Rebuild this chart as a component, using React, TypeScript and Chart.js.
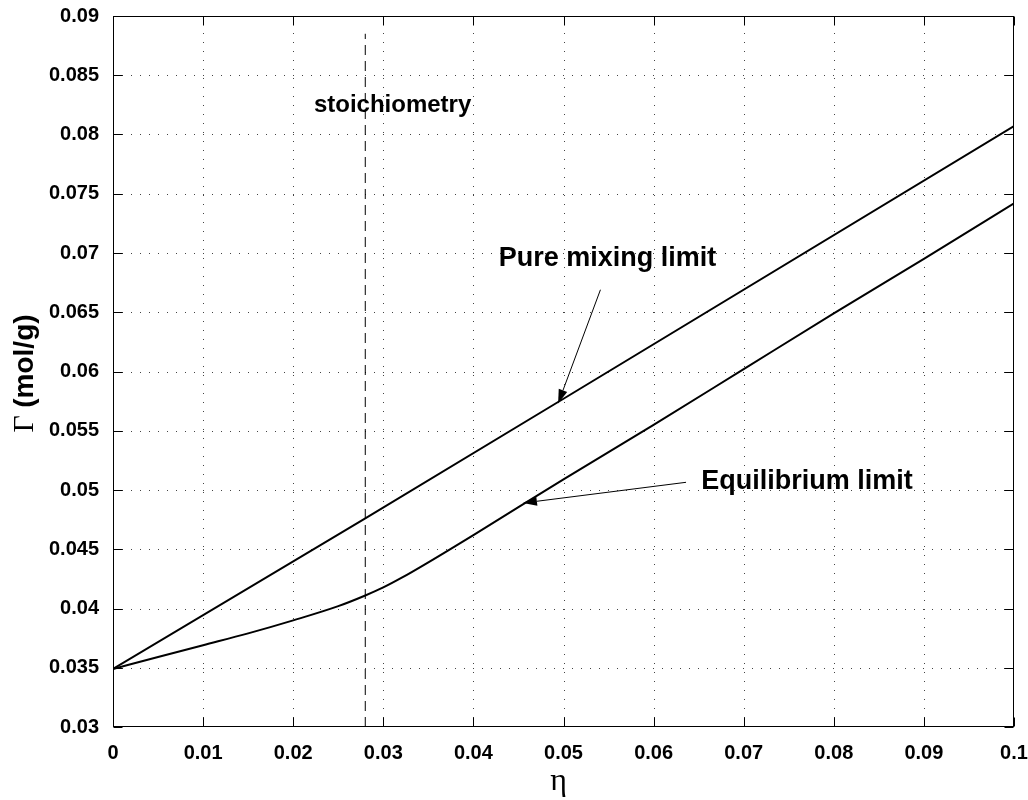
import { useEffect, useRef } from 'react';
import { Chart, registerables } from 'chart.js';

Chart.register(...registerables);

const xTicks = [0, 0.01, 0.02, 0.03, 0.04, 0.05, 0.06, 0.07, 0.08, 0.09, 0.1];
const xTickLabels = ['0', '0.01', '0.02', '0.03', '0.04', '0.05', '0.06', '0.07', '0.08', '0.09', '0.1'];
const yTicks = [0.03, 0.035, 0.04, 0.045, 0.05, 0.055, 0.06, 0.065, 0.07, 0.075, 0.08, 0.085, 0.09];
const yTickLabels = ['0.03', '0.035', '0.04', '0.045', '0.05', '0.055', '0.06', '0.065', '0.07', '0.075', '0.08', '0.085', '0.09'];

const mixingEta = [0, 0.028, 0.05, 0.1];
const mixingGamma = [0.0349, 0.0476, 0.0577, 0.0807];

const equilibriumEta = [0, 0.005, 0.01, 0.015, 0.02, 0.025, 0.028, 0.03, 0.032, 0.035, 0.04, 0.05, 0.06, 0.07, 0.08, 0.09, 0.1];
const equilibriumGamma = [0.0349, 0.0359, 0.0369, 0.0379, 0.039, 0.0402, 0.0411, 0.04178, 0.04258, 0.0439, 0.0462, 0.0509, 0.0555, 0.0602, 0.0649, 0.0695, 0.0742];

const stoichEta = [0.028, 0.028];
const stoichGamma = [0.03, 0.0885];

const annotationTexts = ['Pure mixing limit', 'Equilibrium limit', 'stoichiometry'];
const annotationEta = [0.0428, 0.0653, 0.0223];
const annotationGamma = [0.0689, 0.0501, 0.0819];
const annotationSizes = [27, 27, 24];

const arrowFromEta = [0.0541, 0.0636];
const arrowFromGamma = [0.0669, 0.05065];
const arrowToEta = [0.0494, 0.0455];
const arrowToGamma = [0.0573, 0.0489];

const xAxisLabel = 'η';
const yAxisSymbol = 'Γ';
const yAxisUnit = '(mol/g)';

const SANS = '"Liberation Sans", Arial, Helvetica, sans-serif';
const SERIF = '"Liberation Serif", "Times New Roman", serif';

const toPoints = (xs: number[], ys: number[]) => xs.map((x, i) => ({ x, y: ys[i] }));

const decor = {
  id: 'decor',
  beforeDatasetsDraw(chart: any) {
    const { ctx, chartArea: a, scales } = chart;
    const x = scales.x;
    const y = scales.y;
    ctx.save();
    ctx.strokeStyle = '#444';
    ctx.lineWidth = 1;
    ctx.setLineDash([1, 8]);
    xTicks.forEach((v, i) => {
      if (i === 0 || i === xTicks.length - 1) return;
      const px = Math.round(x.getPixelForValue(v)) + 0.5;
      ctx.beginPath();
      ctx.moveTo(px, a.bottom);
      ctx.lineTo(px, a.top);
      ctx.stroke();
    });
    yTicks.forEach((v, i) => {
      if (i === 0 || i === yTicks.length - 1) return;
      const py = Math.round(y.getPixelForValue(v)) + 0.5;
      ctx.beginPath();
      ctx.moveTo(a.left, py);
      ctx.lineTo(a.right, py);
      ctx.stroke();
    });
    ctx.restore();
  },
  afterDatasetsDraw(chart: any) {
    const { ctx, chartArea: a, scales } = chart;
    const x = scales.x;
    const y = scales.y;
    ctx.save();
    ctx.setLineDash([]);
    ctx.strokeStyle = '#000';
    ctx.lineWidth = 1;
    const L = Math.round(a.left) + 0.5;
    const R = Math.round(a.right) - 0.5;
    const T = Math.round(a.top) + 0.5;
    const B = Math.round(a.bottom) - 0.5;
    ctx.strokeRect(L, T, R - L, B - T);
    const tl = 9;
    xTicks.forEach((v) => {
      const px = Math.round(x.getPixelForValue(v)) + 0.5;
      ctx.beginPath();
      ctx.moveTo(px, B);
      ctx.lineTo(px, B - tl);
      ctx.moveTo(px, T);
      ctx.lineTo(px, T + tl);
      ctx.stroke();
    });
    yTicks.forEach((v) => {
      const py = Math.round(y.getPixelForValue(v)) + 0.5;
      ctx.beginPath();
      ctx.moveTo(L, py);
      ctx.lineTo(L + tl, py);
      ctx.moveTo(R, py);
      ctx.lineTo(R - tl, py);
      ctx.stroke();
    });

    // annotations text
    ctx.fillStyle = '#000';
    ctx.textBaseline = 'alphabetic';
    ctx.textAlign = 'left';
    annotationTexts.forEach((t, i) => {
      ctx.font = `bold ${annotationSizes[i]}px ${SANS}`;
      ctx.fillText(t, x.getPixelForValue(annotationEta[i]), y.getPixelForValue(annotationGamma[i]));
    });

    // arrows
    arrowFromEta.forEach((_, i) => {
      const x0 = x.getPixelForValue(arrowFromEta[i]);
      const y0 = y.getPixelForValue(arrowFromGamma[i]);
      const x1 = x.getPixelForValue(arrowToEta[i]);
      const y1 = y.getPixelForValue(arrowToGamma[i]);
      const dx = x1 - x0;
      const dy = y1 - y0;
      const len = Math.hypot(dx, dy);
      const ux = dx / len;
      const uy = dy / len;
      const hl = 14;
      const hw = 4.5;
      const bx = x1 - ux * hl;
      const by = y1 - uy * hl;
      ctx.lineWidth = 1;
      ctx.beginPath();
      ctx.moveTo(x0, y0);
      ctx.lineTo(bx, by);
      ctx.stroke();
      ctx.beginPath();
      ctx.moveTo(x1, y1);
      ctx.lineTo(bx - uy * hw, by + ux * hw);
      ctx.lineTo(bx + uy * hw, by - ux * hw);
      ctx.closePath();
      ctx.fill();
    });

    // x axis label
    ctx.textAlign = 'center';
    ctx.font = `32px ${SERIF}`;
    ctx.fillText(xAxisLabel, (a.left + a.right) / 2 - 5, a.bottom + 63);

    // y axis label (rotated)
    ctx.translate(33, (a.top + a.bottom) / 2 + 2);
    ctx.rotate(-Math.PI / 2);
    ctx.font = `30px ${SERIF}`;
    const w1 = ctx.measureText(yAxisSymbol + ' ').width;
    ctx.font = `bold 28px ${SANS}`;
    const w2 = ctx.measureText(yAxisUnit).width;
    const start = -(w1 + w2) / 2;
    ctx.textAlign = 'left';
    ctx.font = `30px ${SERIF}`;
    ctx.fillText(yAxisSymbol, start, 0);
    ctx.font = `bold 28px ${SANS}`;
    ctx.fillText(yAxisUnit, start + w1, 0);
    ctx.restore();
  },
};

export default function App() {
  const ref = useRef<HTMLCanvasElement>(null);
  useEffect(() => {
    if (!ref.current) return;
    Chart.defaults.font.family = SANS;
    const chart = new Chart(ref.current, {
      type: 'line',
      data: {
        datasets: [
          {
            label: 'Pure mixing limit',
            data: toPoints(mixingEta, mixingGamma),
            borderColor: '#000',
            borderWidth: 2,
            pointRadius: 0,
            tension: 0,
            fill: false,
          },
          {
            label: 'Equilibrium limit',
            data: toPoints(equilibriumEta, equilibriumGamma),
            borderColor: '#000',
            borderWidth: 2,
            pointRadius: 0,
            cubicInterpolationMode: 'monotone',
            fill: false,
          },
          {
            label: 'stoichiometry',
            data: toPoints(stoichEta, stoichGamma),
            borderColor: '#000',
            borderWidth: 1,
            borderDash: [10, 6],
            pointRadius: 0,
            tension: 0,
            fill: false,
          },
        ],
      },
      options: {
        animation: false,
        responsive: false,
        devicePixelRatio: 1,
        layout: { padding: { top: 16, right: 14, left: 0, bottom: 0 } },
        plugins: {
          legend: { display: false },
          tooltip: { enabled: false },
          title: { display: false },
        },
        scales: {
          x: {
            type: 'linear',
            min: 0,
            max: 0.1,
            grid: { display: false },
            border: { display: false },
            afterBuildTicks: (s: any) => {
              s.ticks = xTicks.map((v) => ({ value: v }));
            },
            afterFit: (s: any) => {
              s.height = 73;
              s.paddingLeft = 0;
              s.paddingRight = 0;
            },
            ticks: {
              autoSkip: false,
              maxRotation: 0,
              minRotation: 0,
              padding: 6,
              color: '#000',
              font: { family: SANS, size: 20, weight: 'bold' },
              callback: (_v: any, i: number) => xTickLabels[i],
            },
          },
          y: {
            type: 'linear',
            min: 0.03,
            max: 0.09,
            grid: { display: false },
            border: { display: false },
            afterBuildTicks: (s: any) => {
              s.ticks = yTicks.map((v) => ({ value: v }));
            },
            afterFit: (s: any) => {
              s.width = 113;
              s.paddingTop = 0;
              s.paddingBottom = 0;
            },
            ticks: {
              autoSkip: false,
              padding: 6,
              color: '#000',
              font: { family: SANS, size: 20, weight: 'bold' },
              callback: (_v: any, i: number) => yTickLabels[i],
            },
          },
        },
      },
      plugins: [decor],
    } as any);
    return () => chart.destroy();
  }, []);
  return (
    <div style={{ position: 'absolute', left: 0, top: 0, width: 1028, height: 800, background: '#fff' }}>
      <canvas ref={ref} width={1028} height={800} style={{ width: 1028, height: 800, display: 'block' }} />
    </div>
  );
}
